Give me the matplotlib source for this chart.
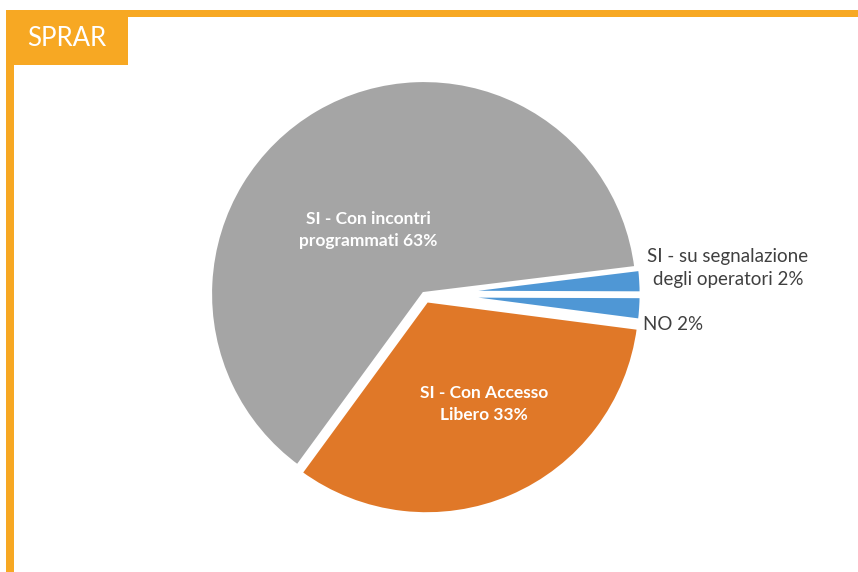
import matplotlib
matplotlib.use("Agg")
import matplotlib.pyplot as plt
from matplotlib.patches import Rectangle

# ---- data ----
categories = ["SI - Con Accesso\nLibero", "NO", "SI - su segnalazione\ndegli operatori", "SI - Con incontri\nprogrammati"]
values = [33, 2, 2, 63]
colors = ["#E07828", "#4F97D5", "#4F97D5", "#A5A5A5"]
explode_frac = [0.032, 0.022, 0.022, 0.0]
title = "SPRAR"

W, H = 858, 572
fig = plt.figure(figsize=(W / 100, H / 100), dpi=100)
ax = fig.add_axes([0, 0, 1, 1])

cx, cy, R = 424, H - 294, 214
total = sum(values)
start = 7.0 - 360.0 * (values[0] + values[1] + values[2]) / total

wedges, _ = ax.pie(values, colors=colors, explode=[e * R for e in explode_frac],
                   startangle=start, counterclock=True, center=(cx, cy), radius=R,
                   wedgeprops=dict(edgecolor="white", linewidth=3))
for w in wedges[1:3]:
    w.set_linewidth(4.5)
ax.set_xlim(0, W)
ax.set_ylim(0, H)
ax.set_aspect("equal")
ax.axis("off")

# frame
orange = "#F7A823"
ax.add_patch(Rectangle((6, H - 17), W - 6, 7, color=orange, lw=0))
ax.add_patch(Rectangle((6, 0), 8, H - 10, color=orange, lw=0))
ax.add_patch(Rectangle((6, H - 65), 122, 55, color=orange, lw=0))
ax.text(67, H - 39, title, color="white", fontsize=18.5, family="Lato",
        ha="center", va="center")

# labels
pct = [f"{v}%" for v in values]
inside = {0: (484, 404), 3: (368, 230)}
outside = {1: (673, 325), 2: (728, 268)}
for i, (x, y) in inside.items():
    t = categories[i] + " " + pct[i]
    ax.text(x, H - y, t, color="white", fontsize=12.5, fontweight="bold",
            family="Lato", ha="center", va="center", linespacing=1.5)
for i, (x, y) in outside.items():
    t = categories[i] + " " + pct[i]
    ax.text(x, H - y, t, color="#404040", fontsize=13.5,
            family="Lato", ha="center", va="center", linespacing=1.45)

fig.savefig("out.png", dpi=100)
